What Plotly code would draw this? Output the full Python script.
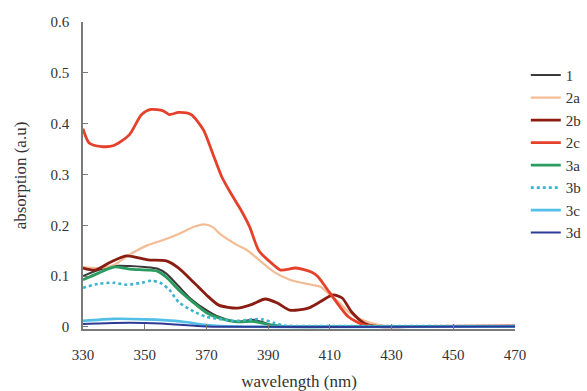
import plotly.graph_objects as go

# ---- data ----
names = ["1", "2a", "2b", "2c", "3a", "3b", "3c", "3d"]

wl_1 = [330, 335, 340, 345, 350, 354, 357, 361, 365, 370, 374, 380, 385, 388, 392, 400, 420, 440, 470]
ab_1 = [0.100, 0.112, 0.120, 0.120, 0.118, 0.115, 0.105, 0.080, 0.055, 0.033, 0.020, 0.010, 0.014, 0.010, 0.002, 0.001, 0.001, 0.001, 0.001]

wl_2a = [330, 335, 340, 345, 351, 356, 361, 366, 369, 372, 374, 380, 383, 387, 392, 397, 404, 407, 410, 413, 416, 420, 425, 430, 450, 470]
ab_2a = [0.118, 0.116, 0.122, 0.142, 0.161, 0.171, 0.183, 0.197, 0.202, 0.197, 0.185, 0.161, 0.152, 0.132, 0.108, 0.093, 0.083, 0.079, 0.063, 0.048, 0.030, 0.015, 0.005, 0.001, 0.001, 0.001]

wl_2b = [330, 334, 339, 344, 348, 351, 357, 361, 366, 370, 374, 380, 385, 389, 393, 397, 403, 407, 411, 414, 417, 421, 425, 440, 470]
ab_2b = [0.116, 0.112, 0.128, 0.140, 0.136, 0.132, 0.130, 0.116, 0.087, 0.063, 0.043, 0.037, 0.045, 0.055, 0.047, 0.033, 0.037, 0.050, 0.063, 0.057, 0.030, 0.008, 0.001, 0.001, 0.001]

wl_2c = [330, 332, 336, 340, 345, 349, 352, 356, 358, 361, 365, 369, 372, 375, 378, 381, 384, 387, 391, 394, 399, 404, 406, 410, 416, 421, 426, 440, 470]
ab_2c = [0.390, 0.362, 0.355, 0.357, 0.378, 0.418, 0.428, 0.425, 0.418, 0.422, 0.418, 0.388, 0.342, 0.295, 0.262, 0.232, 0.197, 0.150, 0.126, 0.112, 0.116, 0.108, 0.100, 0.067, 0.020, 0.004, 0.001, 0.001, 0.002]

wl_3a = [330, 335, 340, 345, 351, 354, 357, 361, 366, 370, 374, 380, 385, 390, 395, 420, 470]
ab_3a = [0.093, 0.106, 0.118, 0.114, 0.112, 0.110, 0.098, 0.073, 0.047, 0.028, 0.018, 0.010, 0.011, 0.005, 0.001, 0.001, 0.001]

wl_3b = [330, 335, 340, 344, 349, 352, 355, 358, 361, 366, 370, 375, 380, 385, 388, 392, 395, 420, 470]
ab_3b = [0.077, 0.085, 0.087, 0.083, 0.087, 0.091, 0.087, 0.073, 0.049, 0.030, 0.020, 0.015, 0.012, 0.015, 0.015, 0.008, 0.003, 0.002, 0.002]

wl_3c = [330, 340, 350, 360, 365, 370, 380, 470]
ab_3c = [0.012, 0.016, 0.015, 0.012, 0.008, 0.004, 0.001, 0.001]

wl_3d = [330, 340, 350, 355, 360, 365, 370, 470]
ab_3d = [0.006, 0.008, 0.008, 0.007, 0.005, 0.003, 0.001, 0.001]

x_ticks = [330, 350, 370, 390, 410, 430, 450, 470]
y_ticks = [0, 0.1, 0.2, 0.3, 0.4, 0.5, 0.6]
y_tick_labels = ["0", "0.1", "0.2", "0.3", "0.4", "0.5", "0.6"]

series = [
    (wl_1, ab_1, "#3a3a3a", 2.0, "solid"),
    (wl_2a, ab_2a, "#f4bc94", 2.2, "solid"),
    (wl_2b, ab_2b, "#8a1c12", 2.8, "solid"),
    (wl_2c, ab_2c, "#e5402a", 2.8, "solid"),
    (wl_3a, ab_3a, "#2a9c60", 2.8, "solid"),
    (wl_3b, ab_3b, "#3cb4cf", 2.6, "dot"),
    (wl_3c, ab_3c, "#52c0e6", 2.6, "solid"),
    (wl_3d, ab_3d, "#2d3a96", 2.0, "solid"),
]

font_family = "Liberation Serif, Times New Roman, serif"

fig = go.Figure()
for name, (xs, ys, color, width, dash) in zip(names, series):
    fig.add_trace(go.Scatter(
        x=xs, y=ys, mode="lines", name=name, legendgroup=name,
        line=dict(color=color, width=width, dash=dash, shape="spline", smoothing=0.7),
    ))

axis_color = "#7a7a7a"
fig.update_layout(
    width=587, height=391,
    margin=dict(l=83, r=72, t=22, b=62, autoexpand=False),
    paper_bgcolor="white", plot_bgcolor="white",
    font=dict(family=font_family, size=15, color="#333333"),
    showlegend=True,
    legend=dict(
        x=1.025, y=0.88, xanchor="left", yanchor="top",
        font=dict(family=font_family, size=15, color="#333333"),
        tracegroupgap=0, bgcolor="rgba(0,0,0,0)",
    ),
    xaxis=dict(
        range=[330, 470], tickvals=x_ticks, ticktext=[str(v) for v in x_ticks],
        showgrid=False, zeroline=False, showline=True, linecolor=axis_color, linewidth=1.5,
        ticks="inside", ticklen=5, tickcolor=axis_color, ticklabelstandoff=11,
        automargin=False,
        title=dict(text="wavelength (nm)", font=dict(family=font_family, size=17), standoff=15),
    ),
    yaxis=dict(
        range=[-0.004, 0.6], tickvals=y_ticks, ticktext=y_tick_labels,
        showgrid=False, zeroline=False, showline=True, linecolor=axis_color, linewidth=1.5,
        ticks="inside", ticklen=5, tickcolor=axis_color, ticklabelstandoff=9,
        automargin=False,
        title=dict(text="absorption (a.u)", font=dict(family=font_family, size=17), standoff=20),
    ),
)

fig.write_html(
    "out.html",
    config={"displayModeBar": False},
    post_script="document.body.style.margin='0';document.body.style.overflow='hidden';",
)
